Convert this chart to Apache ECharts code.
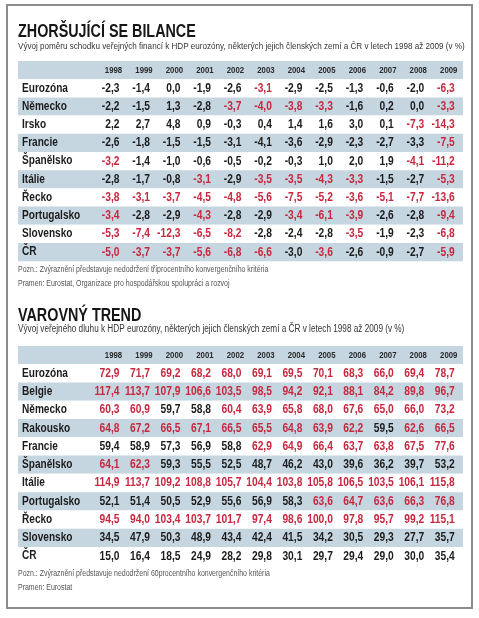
<!DOCTYPE html>
<html>
<head>
<meta charset="utf-8">
<script src="https://cdn.jsdelivr.net/npm/echarts@6/dist/echarts.min.js"></script>
<style>
html,body{margin:0;padding:0;background:#ffffff;}
#chart{width:479px;height:618px;}
</style>
</head>
<body>
<div id="chart"></div>
<script>
// ---------- DATA ----------
const years = ['1998','1999','2000','2001','2002','2003','2004','2005','2006','2007','2008','2009'];

// Table 1: general government balance, % of GDP
const deficitCountries = ['Eurozóna','Německo','Irsko','Francie','Španělsko','Itálie','Řecko','Portugalsko','Slovensko','ČR'];
const defEurozona    = [-2.3,-1.4, 0.0,-1.9,-2.6,-3.1,-2.9,-2.5,-1.3,-0.6,-2.0,-6.3];
const defNemecko     = [-2.2,-1.5, 1.3,-2.8,-3.7,-4.0,-3.8,-3.3,-1.6, 0.2, 0.0,-3.3];
const defIrsko       = [ 2.2, 2.7, 4.8, 0.9,-0.3, 0.4, 1.4, 1.6, 3.0, 0.1,-7.3,-14.3];
const defFrancie     = [-2.6,-1.8,-1.5,-1.5,-3.1,-4.1,-3.6,-2.9,-2.3,-2.7,-3.3,-7.5];
const defSpanelsko   = [-3.2,-1.4,-1.0,-0.6,-0.5,-0.2,-0.3, 1.0, 2.0, 1.9,-4.1,-11.2];
const defItalie      = [-2.8,-1.7,-0.8,-3.1,-2.9,-3.5,-3.5,-4.3,-3.3,-1.5,-2.7,-5.3];
const defRecko       = [-3.8,-3.1,-3.7,-4.5,-4.8,-5.6,-7.5,-5.2,-3.6,-5.1,-7.7,-13.6];
const defPortugalsko = [-3.4,-2.8,-2.9,-4.3,-2.8,-2.9,-3.4,-6.1,-3.9,-2.6,-2.8,-9.4];
const defSlovensko   = [-5.3,-7.4,-12.3,-6.5,-8.2,-2.8,-2.4,-2.8,-3.5,-1.9,-2.3,-6.8];
const defCR          = [-5.0,-3.7,-3.7,-5.6,-6.8,-6.6,-3.0,-3.6,-2.6,-0.9,-2.7,-5.9];
const deficitRows = [defEurozona,defNemecko,defIrsko,defFrancie,defSpanelsko,defItalie,defRecko,defPortugalsko,defSlovensko,defCR];
// highlighted cells (breach of the 3 % criterion) as printed
const hlEurozona    = [0,0,0,0,0,1,0,0,0,0,0,1];
const hlNemecko     = [0,0,0,0,1,1,1,1,0,0,0,1];
const hlIrsko       = [0,0,0,0,0,0,0,0,0,0,1,1];
const hlFrancie     = [0,0,0,0,0,0,0,0,0,0,0,1];
const hlSpanelsko   = [1,0,0,0,0,0,0,0,0,0,1,1];
const hlItalie      = [0,0,0,1,0,1,1,1,1,0,0,1];
const hlRecko       = [1,1,1,1,1,1,1,1,1,1,1,1];
const hlPortugalsko = [1,0,0,1,0,0,1,1,1,0,0,1];
const hlSlovensko   = [1,1,1,1,1,0,0,0,1,0,0,1];
const hlCR          = [1,1,1,1,1,1,0,1,0,0,0,1];
const deficitHl = [hlEurozona,hlNemecko,hlIrsko,hlFrancie,hlSpanelsko,hlItalie,hlRecko,hlPortugalsko,hlSlovensko,hlCR];

// Table 2: government debt, % of GDP
const debtCountries = ['Eurozóna','Belgie','Německo','Rakousko','Francie','Španělsko','Itálie','Portugalsko','Řecko','Slovensko','ČR'];
const debtEurozona    = [72.9,71.7,69.2,68.2,68.0,69.1,69.5,70.1,68.3,66.0,69.4,78.7];
const debtBelgie      = [117.4,113.7,107.9,106.6,103.5,98.5,94.2,92.1,88.1,84.2,89.8,96.7];
const debtNemecko     = [60.3,60.9,59.7,58.8,60.4,63.9,65.8,68.0,67.6,65.0,66.0,73.2];
const debtRakousko    = [64.8,67.2,66.5,67.1,66.5,65.5,64.8,63.9,62.2,59.5,62.6,66.5];
const debtFrancie     = [59.4,58.9,57.3,56.9,58.8,62.9,64.9,66.4,63.7,63.8,67.5,77.6];
const debtSpanelsko   = [64.1,62.3,59.3,55.5,52.5,48.7,46.2,43.0,39.6,36.2,39.7,53.2];
const debtItalie      = [114.9,113.7,109.2,108.8,105.7,104.4,103.8,105.8,106.5,103.5,106.1,115.8];
const debtPortugalsko = [52.1,51.4,50.5,52.9,55.6,56.9,58.3,63.6,64.7,63.6,66.3,76.8];
const debtRecko       = [94.5,94.0,103.4,103.7,101.7,97.4,98.6,100.0,97.8,95.7,99.2,115.1];
const debtSlovensko   = [34.5,47.9,50.3,48.9,43.4,42.4,41.5,34.2,30.5,29.3,27.7,35.7];
const debtCR          = [15.0,16.4,18.5,24.9,28.2,29.8,30.1,29.7,29.4,29.0,30.0,35.4];
const debtRows = [debtEurozona,debtBelgie,debtNemecko,debtRakousko,debtFrancie,debtSpanelsko,debtItalie,debtPortugalsko,debtRecko,debtSlovensko,debtCR];
const debtLimit = 60;

// ---------- TEXTS ----------
const title1 = 'ZHORŠUJÍCÍ SE BILANCE';
const sub1 = 'Vývoj poměru schodku veřejných financí k HDP eurozóny, některých jejich členských zemí a ČR v letech 1998 až 2009 (v %)';
const note1 = 'Pozn.: Zvýraznění představuje nedodržení tříprocentního konvergenčního kritéria';
const src1 = 'Pramen: Eurostat, Organizace pro hospodářskou spolupráci a rozvoj';
const title2 = 'VAROVNÝ TREND';
const sub2 = 'Vývoj veřejného dluhu k HDP eurozóny, některých jejich členských zemí a ČR v letech 1998 až 2009 (v %)';
const note2 = 'Pozn.: Zvýraznění představuje nedodržení 60procentního konvergenčního kritéria';
const src2 = 'Pramen: Eurostat';

// ---------- STYLE ----------
const FONT = "'Liberation Sans', Arial, sans-serif";
const SQUEEZE = 0.82;           // condensed look
const RED = '#c8283f';
const DARK = '#1c1c1c';
const STRIPE = '#c6d6e1';
const HEADER = '';
const X_MIN = -3.1, X_MAX = 11.5;

const fmt = v => v.toFixed(1).replace('.', ',');

function textEl(x, y, text, align, size, weight, color) {
  return {
    type: 'text', x, y, scaleX: SQUEEZE, scaleY: 1,
    style: {
      x: 0, y: 0, text, align, verticalAlign: 'middle',
      font: weight + ' ' + size + 'px ' + FONT, fill: color
    }
  };
}

function tableSeries(gridIdx, countries, rows, isRed) {
  const cells = [];
  rows.forEach((row, r) => {
    row.forEach((v, c) => {
      cells.push([c, r + 1, v, isRed(r, c, v) ? 1 : 0]);
    });
  });
  const head = years.map((y, c) => [c, 0]);
  const names = countries.map((n, r) => [X_MIN, r + 1]);
  const base = { type: 'custom', xAxisIndex: gridIdx, yAxisIndex: gridIdx, silent: true, encode: { x: 0, y: 1 } };
  return [
    Object.assign({}, base, {
      data: cells,
      renderItem: (params, api) => {
        const p = api.coord([api.value(0), api.value(1)]);
        return textEl(p[0] + 7, p[1], fmt(api.value(2)), 'right', 12.5, 'bold', api.value(3) ? RED : DARK);
      }
    }),
    Object.assign({}, base, {
      data: head,
      renderItem: (params, api) => {
        const p = api.coord([api.value(0), api.value(1)]);
        return textEl(p[0] + 1, p[1], years[params.dataIndex], 'center', 9.5, 'bold', '#2a2a2a');
      }
    }),
    Object.assign({}, base, {
      data: names,
      renderItem: (params, api) => {
        const p = api.coord([api.value(0), api.value(1)]);
        return textEl(p[0] + 4, p[1], countries[params.dataIndex], 'left', 12.3, 'bold', DARK);
      }
    })
  ];
}

function xAx(gridIdx) {
  return { gridIndex: gridIdx, type: 'value', min: X_MIN, max: X_MAX, show: false };
}
function yAx(gridIdx, countries) {
  return {
    gridIndex: gridIdx, type: 'category', inverse: true,
    data: [HEADER].concat(countries),
    axisLine: { show: false }, axisTick: { show: false }, splitLine: { show: false },
    axisLabel: { show: false },
    splitArea: { show: true, areaStyle: { color: [STRIPE, '#ffffff'] } }
  };
}

const chart = echarts.init(document.getElementById('chart'), null, { renderer: 'canvas' });
const gtxt = (text, y, size, weight, color) => Object.assign(textEl(18, y, text, 'left', size, weight, color), { z: 10 });

chart.setOption({
  animation: false,
  backgroundColor: '#ffffff',
  graphic: [
    { type: 'rect', z: -10, shape: { x: 7, y: 5, width: 465, height: 603 },
      style: { fill: '#ffffff', stroke: '#8c8c8c', lineWidth: 2 } },
    gtxt(title1, 32, 17.5, 'bold', '#161616'),
    gtxt(sub1, 46.5, 9.9, 'normal', '#333333'),
    gtxt(note1, 269.5, 8.5, 'normal', '#555555'),
    gtxt(src1, 284, 8.5, 'normal', '#555555'),
    gtxt(title2, 316, 17.5, 'bold', '#161616'),
    gtxt(sub2, 329.5, 10, 'normal', '#333333'),
    gtxt(note2, 573.5, 8.5, 'normal', '#555555'),
    gtxt(src2, 588, 8.5, 'normal', '#555555')
  ],
  grid: [
    { left: 18, right: 16, top: 61, height: 200.2 },
    { left: 18, right: 16, top: 346, height: 219.2 }
  ],
  xAxis: [xAx(0), xAx(1)],
  yAxis: [yAx(0, deficitCountries), yAx(1, debtCountries)],
  series: [].concat(
    tableSeries(0, deficitCountries, deficitRows, (r, c) => deficitHl[r][c] === 1),
    tableSeries(1, debtCountries, debtRows, (r, c, v) => v > debtLimit)
  )
});
</script>
</body>
</html>
